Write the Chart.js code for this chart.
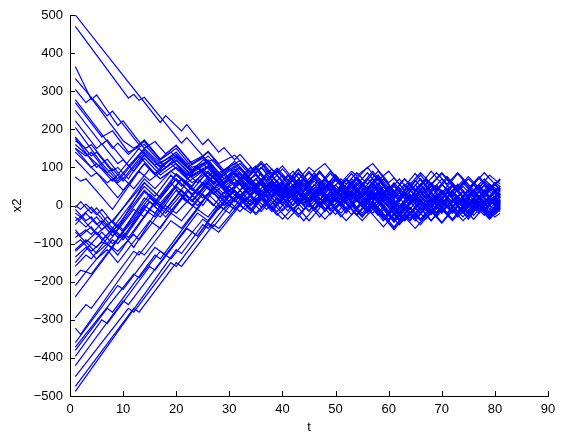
<!DOCTYPE html>
<html>
<head>
<meta charset="utf-8">
<script src="https://cdn.jsdelivr.net/npm/chart.js@4.4.1/dist/chart.umd.min.js"></script>
<style>
  html, body { margin: 0; padding: 0; background: #fff; }
</style>
</head>
<body>
<canvas id="chart" width="563" height="437"></canvas>
<script>
// axis ranges
const tRange = [0, 90];
const x2Range = [-500, 500];

// each path is a flat list of turning points: t, x2, t, x2, ...
const upperPaths = [
  [1,500, 17,218, 18,236, 21,196, 22,212, 25,160, 26,174, 28,140, 29,152, 31,120, 32,134, 35,86, 37,110, 39,80, 40,96, 43,50, 44,66, 46,36, 49,84, 51,56, 52,70, 55,24, 57,56, 58,44, 61,0, 63,30, 64,18, 67,66, 68,54, 70,84, 73,36, 74,50, 76,20, 78,52, 79,40, 81,70],
  [1,470, 11,282, 12,292, 13,276, 14,284, 21,164, 22,178, 25,130, 26,142, 28,110, 31,132, 34,86, 36,116, 38,84, 39,98, 42,52, 45,100, 46,88, 48,110, 51,60, 53,90, 54,78, 57,110, 60,60, 61,72, 63,40, 66,86, 67,72, 68,90, 71,40, 72,56, 74,24, 77,72, 79,40, 80,54, 81,40],
  [1,365, 4,278, 5,290, 9,210, 10,222, 14,150, 16,168, 18,136, 20,158, 23,110, 25,128, 28,80, 31,116, 33,86, 34,100, 37,50, 38,66, 40,36, 42,70, 43,56, 45,86, 48,40, 49,56, 51,22, 53,54, 55,24, 57,56, 59,20, 60,34, 62,-2, 64,30, 65,16, 67,50, 69,16, 70,32, 73,-16, 75,18, 76,4, 78,40, 80,8, 81,24],
  [1,333, 7,235, 8,248, 13,160, 14,172, 17,122, 20,158, 23,108, 26,140, 29,92, 32,118, 34,86, 36,110, 38,80, 39,92, 42,40, 44,70, 45,56, 47,86, 50,36, 51,50, 53,20, 56,70, 57,56, 58,70, 61,20, 62,34, 64,2, 66,36, 68,4, 70,36, 71,22, 73,56, 75,24, 76,40, 78,8, 80,40, 81,28],
  [1,305, 3,270, 4,282, 10,170, 12,150, 14,168, 17,120, 20,150, 23,100, 27,120, 30,70, 32,86, 34,56, 35,70, 37,36, 39,66, 41,30, 42,44, 44,14, 46,46, 47,30, 49,62, 51,30, 52,46, 55,-4, 57,30, 58,16, 60,46, 62,14, 63,30, 65,-6, 67,26, 68,10, 70,40, 72,8, 74,40, 75,26, 77,54, 79,20, 81,50],
  [1,278, 8,150, 9,164, 11,134, 14,170, 17,120, 19,140, 22,100, 25,124, 28,76, 30,96, 32,66, 33,80, 36,30, 38,62, 39,50, 41,80, 43,46, 44,60, 46,28, 48,60, 50,24, 51,40, 53,8, 55,40, 56,24, 58,56, 60,22, 62,-12, 64,20, 65,4, 67,36, 69,2, 70,18, 72,-16, 74,20, 76,-10, 78,22, 79,8, 81,40],
  [1,270, 6,180, 8,196, 11,140, 14,160, 18,100, 20,126, 23,86, 26,112, 29,60, 31,86, 33,54, 34,68, 36,36, 38,66, 40,30, 41,46, 43,10, 45,44, 47,14, 48,30, 50,-4, 52,26, 54,-4, 55,10, 57,-20, 59,14, 60,0, 62,-36, 64,-4, 65,-20, 67,14, 69,-18, 71,16, 72,0, 74,-30, 76,4, 78,-26, 80,6, 81,-8],
  [1,250, 6,160, 7,172, 11,104, 13,130, 16,84, 19,124, 22,80, 24,104, 27,60, 30,100, 32,70, 34,100, 36,66, 38,96, 40,60, 42,90, 44,54, 46,86, 48,50, 50,80, 52,46, 54,14, 56,46, 58,80, 60,46, 62,14, 64,46, 66,80, 68,46, 70,14, 72,50, 74,20, 76,54, 78,20, 80,56, 81,44],
  [1,222, 5,150, 6,162, 9,110, 10,120, 12,90, 14,124, 17,80, 20,110, 24,60, 26,88, 29,40, 31,70, 33,40, 34,56, 37,10, 39,44, 41,16, 42,30, 44,0, 46,34, 48,6, 50,40, 51,28, 53,60, 55,26, 57,60, 59,30, 60,46, 62,10, 64,44, 66,14, 67,30, 69,0, 71,36, 73,4, 75,40, 77,10, 79,44, 81,16],
  [1,205, 6,110, 7,122, 10,70, 14,140, 17,100, 20,130, 23,90, 26,120, 29,70, 31,96, 33,66, 35,96, 37,60, 38,76, 40,44, 42,76, 44,40, 45,56, 47,26, 49,60, 51,30, 53,64, 55,32, 56,46, 58,14, 60,50, 61,36, 63,70, 65,40, 67,72, 69,40, 70,56, 72,24, 74,60, 76,30, 78,64, 80,36, 81,46],
  [1,180, 4,130, 5,140, 9,70, 14,150, 17,110, 20,140, 23,94, 26,130, 29,84, 31,104, 33,70, 35,100, 37,66, 38,80, 41,30, 43,60, 44,46, 46,80, 48,46, 49,60, 52,10, 54,44, 56,10, 57,26, 59,-6, 61,-40, 63,-6, 64,-22, 66,14, 68,-16, 70,20, 72,-14, 73,0, 75,-30, 77,4, 79,-24, 81,8],
  [1,176, 5,100, 6,110, 9,64, 14,146, 17,104, 20,130, 23,90, 25,110, 28,70, 32,110, 34,80, 36,110, 38,76, 40,104, 42,70, 43,86, 45,56, 47,90, 49,56, 50,70, 52,36, 54,70, 56,40, 58,76, 60,40, 61,56, 63,20, 65,54, 67,20, 68,36, 70,4, 72,40, 74,6, 76,40, 78,70, 80,40, 81,50],
  [1,170, 3,150, 4,160, 8,92, 9,100, 11,70, 14,132, 17,90, 20,118, 23,80, 26,104, 29,60, 31,86, 33,50, 34,64, 36,30, 38,60, 40,26, 41,40, 43,6, 45,40, 47,6, 48,22, 50,-10, 52,24, 54,-8, 55,6, 57,-24, 59,-56, 61,-24, 62,-40, 64,-8, 66,-40, 68,-10, 69,-26, 71,10, 73,-22, 75,10, 77,-20, 79,14, 81,-16],
  [1,160, 9,60, 10,72, 12,44, 15,96, 17,70, 20,100, 22,80, 26,116, 29,70, 32,100, 34,70, 36,100, 38,76, 39,90, 41,60, 43,94, 45,60, 46,74, 48,40, 50,74, 52,44, 54,76, 56,44, 57,60, 59,26, 61,60, 63,30, 65,66, 67,36, 68,52, 70,20, 72,54, 74,24, 76,60, 78,30, 80,60, 81,50],
  [1,150, 4,100, 5,110, 8,64, 13,150, 16,106, 20,134, 22,108, 25,130, 28,86, 31,110, 33,80, 35,104, 37,66, 39,94, 41,56, 42,70, 44,36, 46,70, 48,40, 49,54, 51,20, 53,54, 55,20, 57,50, 59,16, 60,30, 62,-4, 64,30, 66,-4, 67,12, 69,-20, 71,16, 73,-16, 75,20, 77,-14, 79,20, 81,-6],
  [1,150, 3,130, 4,140, 7,86, 8,96, 10,64, 14,134, 17,90, 19,110, 22,70, 25,96, 28,60, 31,90, 33,60, 35,80, 37,46, 38,60, 40,24, 42,56, 44,20, 45,36, 47,0, 49,36, 51,4, 53,34, 55,0, 56,14, 58,-20, 60,14, 62,-20, 63,-6, 65,30, 67,-4, 69,30, 71,0, 72,14, 74,-20, 76,16, 78,-16, 80,20, 81,8],
  [1,140, 7,60, 8,70, 10,40, 14,110, 17,70, 20,100, 23,60, 26,90, 29,50, 31,70, 33,40, 35,10, 37,40, 38,26, 40,60, 42,26, 43,40, 45,6, 47,40, 49,6, 50,20, 52,-14, 54,20, 56,-14, 57,2, 59,-34, 61,0, 63,-36, 64,-20, 66,16, 68,-18, 70,16, 72,-16, 73,0, 75,-36, 77,0, 79,-34, 81,0],
  [1,120, 4,76, 5,86, 9,20, 14,110, 16,80, 19,124, 22,76, 24,100, 27,56, 29,80, 31,50, 33,84, 35,50, 37,84, 39,50, 41,20, 43,50, 45,16, 47,50, 49,16, 51,50, 53,84, 55,50, 57,84, 59,50, 61,16, 63,50, 65,84, 67,50, 69,16, 71,50, 73,84, 75,50, 77,16, 79,50, 81,30],
  [1,75, 2,64, 3,70, 8,-10, 13,90, 15,66, 20,120, 23,76, 26,100, 30,40, 32,56, 34,26, 36,56, 38,20, 40,50, 41,36, 43,66, 45,30, 47,60, 48,46, 50,80, 52,46, 54,14, 56,50, 58,16, 59,30, 61,-6, 63,30, 65,-4, 66,10, 68,-24, 70,12, 72,-20, 74,16, 75,0, 77,36, 79,4, 81,34]
];

const middlePaths = [
  [1,0, 2,-10, 3,4, 5,-24, 6,-10, 8,-44, 14,70, 16,44, 19,90, 22,60, 25,90, 28,50, 30,76, 32,100, 34,70, 36,100, 38,66, 39,80, 41,50, 43,84, 45,50, 46,64, 48,34, 50,66, 52,36, 54,70, 56,100, 58,66, 60,90, 62,56, 63,70, 65,36, 67,70, 69,40, 71,76, 73,44, 75,76, 77,46, 79,80, 81,56],
  [1,-6, 2,10, 4,-20, 5,-6, 8,-60, 14,50, 16,24, 19,80, 21,50, 24,100, 27,56, 29,86, 31,56, 33,86, 35,56, 37,24, 39,56, 41,24, 43,56, 45,90, 47,56, 49,90, 51,56, 53,24, 55,56, 57,90, 59,56, 61,24, 63,56, 65,24, 67,56, 69,86, 71,56, 73,86, 75,56, 77,24, 79,56, 81,36],
  [1,-10, 3,-40, 4,-30, 6,-64, 8,-40, 10,-70, 15,10, 17,-16, 20,40, 22,10, 26,70, 29,30, 32,60, 34,30, 36,60, 38,24, 39,40, 41,6, 43,40, 45,4, 46,20, 48,-16, 50,20, 52,-14, 54,20, 55,4, 57,36, 59,0, 61,-36, 63,0, 65,-34, 66,-20, 68,16, 70,-18, 72,16, 74,-16, 76,20, 78,-10, 80,24, 81,10],
  [1,-20, 2,-30, 4,-4, 7,-50, 8,-40, 14,60, 17,20, 20,70, 23,30, 26,64, 29,20, 31,40, 33,10, 35,40, 37,4, 39,36, 40,22, 42,54, 44,20, 46,56, 48,20, 49,36, 51,4, 53,36, 55,0, 57,34, 58,20, 60,-14, 62,20, 64,-10, 66,26, 68,-6, 69,10, 71,-24, 73,10, 75,-24, 77,10, 79,-20, 81,10],
  [1,-30, 3,-56, 5,-30, 8,-80, 14,36, 16,10, 20,84, 23,50, 26,104, 29,56, 32,84, 34,54, 36,84, 38,50, 40,80, 41,66, 43,96, 45,60, 47,90, 49,56, 50,70, 52,40, 54,74, 56,40, 58,70, 60,36, 61,50, 63,20, 65,54, 67,20, 69,50, 71,20, 72,34, 74,0, 76,34, 78,4, 80,36, 81,26],
  [1,-40, 2,-30, 5,-76, 7,-50, 9,-84, 15,20, 18,-20, 21,30, 23,0, 26,50, 29,0, 32,40, 34,10, 36,40, 38,4, 39,20, 41,-14, 43,20, 45,-14, 47,20, 48,6, 50,40, 52,6, 54,-26, 56,6, 58,-26, 59,-10, 61,-44, 63,-10, 65,-40, 67,-6, 68,-20, 70,14, 72,-20, 74,14, 76,-16, 78,16, 80,-14, 81,0],
  [1,-50, 3,-20, 5,-50, 6,-40, 8,-70, 14,40, 17,0, 20,50, 23,14, 26,60, 29,20, 31,36, 33,6, 35,-20, 37,10, 39,-16, 40,0, 42,30, 44,0, 46,30, 47,14, 49,46, 51,14, 53,46, 55,14, 56,30, 58,-4, 60,-36, 62,-4, 64,-34, 65,-20, 67,14, 69,-20, 71,14, 73,-16, 74,0, 76,36, 78,4, 80,36, 81,24],
  [1,-64, 2,-80, 4,-56, 6,-90, 8,-64, 10,-90, 15,10, 18,-30, 21,20, 24,-10, 27,50, 30,10, 32,30, 34,0, 36,30, 38,-4, 40,30, 42,0, 43,16, 45,-16, 47,20, 49,-14, 51,20, 52,6, 54,-26, 56,6, 58,40, 60,6, 62,-30, 63,-14, 65,20, 67,-14, 69,20, 70,4, 72,36, 74,6, 76,-26, 78,6, 80,-24, 81,-10],
  [1,-70, 3,-96, 5,-70, 7,-100, 12,-10, 14,-30, 19,60, 22,10, 25,60, 28,20, 30,50, 32,20, 34,-10, 36,20, 38,-10, 40,20, 42,50, 44,20, 46,-10, 48,20, 50,-10, 52,-40, 54,-10, 56,20, 58,-10, 60,-40, 62,-10, 64,20, 66,-10, 68,20, 70,-10, 72,-40, 74,-10, 76,20, 78,-10, 80,20, 81,10],
  [1,-84, 3,-64, 4,-76, 7,-30, 9,-60, 14,60, 17,20, 20,80, 23,40, 26,90, 29,40, 32,70, 34,40, 36,70, 38,36, 40,60, 42,26, 43,40, 45,10, 47,46, 49,14, 51,46, 53,14, 54,30, 56,-4, 58,30, 60,-4, 62,-40, 64,-6, 66,-36, 67,-20, 69,14, 71,-20, 73,14, 75,-16, 76,0, 78,34, 80,0, 81,14],
  [1,-100, 2,-90, 4,-120, 6,-96, 8,-110, 14,20, 16,0, 20,70, 23,30, 27,90, 30,40, 32,60, 34,30, 36,60, 38,26, 39,40, 41,6, 43,40, 45,6, 47,36, 48,20, 50,54, 52,20, 54,54, 56,86, 58,54, 59,70, 61,36, 63,70, 65,36, 67,70, 68,56, 70,86, 72,56, 74,24, 76,56, 78,24, 80,56, 81,40],
  [1,-116, 3,-90, 4,-100, 6,-70, 8,-100, 10,-76, 12,-110, 17,0, 19,-20, 24,70, 27,30, 30,70, 32,40, 35,70, 37,40, 38,54, 40,20, 42,54, 44,20, 46,-10, 48,20, 50,-6, 51,10, 53,40, 55,10, 57,40, 59,8, 61,40, 62,24, 64,60, 66,26, 68,60, 70,30, 71,44, 73,10, 75,-20, 77,10, 79,-16, 81,14],
  [1,-120, 3,-96, 5,-126, 7,-100, 9,-130, 15,-10, 17,-30, 21,40, 24,0, 27,40, 30,0, 33,60, 35,30, 37,60, 39,26, 41,56, 42,40, 44,70, 46,36, 48,70, 50,36, 51,50, 53,16, 55,50, 57,16, 59,50, 60,36, 62,70, 64,36, 66,70, 68,40, 69,54, 71,20, 73,54, 75,20, 77,50, 79,16, 81,30],
  [1,-135, 3,-110, 5,-140, 7,-116, 9,-150, 15,-40, 17,-60, 22,40, 25,0, 28,60, 31,10, 33,40, 35,10, 37,40, 38,26, 40,56, 42,20, 44,-10, 46,20, 48,-14, 49,0, 51,30, 53,0, 55,-30, 57,0, 59,-34, 60,-20, 62,-50, 64,-20, 66,-50, 68,-16, 70,-46, 71,-30, 73,0, 75,-30, 77,4, 79,-30, 81,0],
  [1,-150, 4,-100, 5,-110, 8,-60, 10,-84, 14,0, 16,-20, 21,70, 24,30, 27,80, 30,30, 33,76, 35,44, 37,76, 39,40, 40,56, 42,20, 44,54, 46,20, 48,54, 50,24, 51,40, 53,70, 55,40, 57,70, 59,36, 61,4, 63,36, 64,20, 66,56, 68,20, 70,56, 72,26, 74,60, 75,44, 77,76, 79,44, 81,70],
  [1,-160, 3,-130, 4,-140, 9,-50, 10,-64, 15,30, 17,6, 21,70, 24,30, 27,76, 30,36, 32,66, 34,36, 36,66, 38,36, 40,6, 42,36, 44,6, 46,36, 48,66, 50,36, 52,66, 54,36, 56,6, 58,36, 60,6, 62,-24, 64,6, 66,36, 68,6, 70,36, 72,6, 74,36, 76,6, 78,36, 80,6, 81,16],
  [1,-185, 2,-170, 3,-174, 8,-90, 9,-100, 14,-10, 16,-30, 20,50, 23,10, 26,56, 29,10, 31,40, 33,6, 35,-24, 37,6, 38,-10, 40,24, 42,-10, 44,24, 46,-6, 48,-36, 50,-6, 51,-20, 53,10, 55,-20, 57,10, 59,-24, 61,-56, 63,-24, 64,-40, 66,-6, 68,-40, 70,-6, 72,-36, 74,-4, 76,-36, 78,-4, 80,-30, 81,-20]
];

const lowerPaths = [
  [1,-210, 3,-174, 4,-180, 10,-70, 11,-84, 16,10, 18,-10, 22,60, 25,20, 28,56, 31,10, 33,40, 35,6, 37,40, 39,4, 40,20, 42,-14, 44,20, 46,-14, 48,20, 49,6, 51,40, 53,6, 55,-26, 57,6, 59,-30, 61,-60, 63,-26, 64,-40, 66,-6, 68,-40, 70,-6, 72,-36, 73,-20, 75,14, 77,-20, 79,14, 81,-10],
  [1,-240, 8,-110, 9,-120, 12,-76, 13,-90, 18,0, 20,-20, 24,40, 27,0, 30,50, 32,20, 34,50, 36,16, 38,46, 39,30, 41,-4, 43,30, 45,-4, 47,30, 49,0, 50,14, 52,-20, 54,14, 56,-20, 58,14, 60,-20, 61,-6, 63,-40, 65,-6, 67,-36, 69,-4, 70,-20, 72,14, 74,-20, 76,16, 78,-16, 80,16, 81,4],
  [1,-295, 3,-260, 4,-270, 12,-120, 13,-130, 19,-20, 21,-40, 25,30, 28,-10, 31,40, 33,10, 35,40, 37,6, 39,-26, 41,6, 43,-24, 44,-10, 46,24, 48,-10, 50,24, 52,-10, 53,4, 55,-30, 57,4, 59,-30, 61,-64, 63,-30, 65,-60, 66,-44, 68,-10, 70,-44, 72,-10, 74,-40, 75,-26, 77,6, 79,-26, 81,4],
  [1,-322, 2,-338, 13,-120, 14,-130, 19,-40, 21,-60, 26,30, 29,-10, 32,30, 34,0, 36,30, 38,-6, 40,-36, 42,-6, 44,-40, 45,-24, 47,10, 49,-24, 51,10, 53,-24, 55,10, 56,-6, 58,26, 60,-6, 62,-40, 64,-6, 66,-36, 67,-20, 69,14, 71,-20, 73,14, 75,-20, 77,10, 79,-20, 81,6],
  [1,-360, 9,-210, 10,-220, 16,-110, 18,-130, 22,-60, 24,-80, 28,0, 30,-20, 32,16, 34,-14, 36,16, 38,-16, 39,0, 41,30, 43,0, 45,30, 47,-4, 49,26, 50,10, 52,44, 54,10, 56,40, 58,6, 60,-26, 62,6, 63,-10, 65,24, 67,-10, 69,24, 71,-6, 73,26, 74,10, 76,40, 78,6, 80,36, 81,20],
  [1,-372, 12,-180, 13,-190, 17,-120, 18,-130, 24,-20, 26,-40, 30,30, 32,0, 34,30, 36,-4, 38,30, 40,0, 41,14, 43,46, 45,14, 47,46, 49,10, 51,44, 52,30, 54,60, 56,30, 58,60, 60,24, 62,-6, 64,24, 65,10, 67,44, 69,10, 71,44, 73,10, 75,40, 76,24, 78,54, 80,20, 81,30],
  [1,-380, 7,-270, 8,-280, 16,-130, 17,-140, 24,-10, 26,-30, 30,40, 32,16, 34,50, 36,20, 38,56, 40,20, 41,36, 43,70, 45,36, 47,70, 49,36, 51,70, 52,56, 54,86, 56,56, 58,90, 60,56, 62,20, 64,54, 65,40, 67,70, 69,36, 71,70, 73,40, 75,70, 76,56, 78,86, 80,56, 81,66],
  [1,-396, 6,-300, 7,-310, 15,-160, 16,-170, 22,-60, 24,-80, 29,10, 31,-10, 33,26, 35,56, 37,20, 39,56, 41,20, 42,36, 44,70, 46,36, 48,70, 50,36, 52,70, 53,56, 55,20, 57,56, 59,20, 61,54, 63,20, 64,36, 66,70, 68,36, 70,70, 72,36, 74,66, 75,50, 77,16, 79,50, 81,20],
  [1,-420, 10,-250, 11,-260, 18,-130, 19,-140, 25,-36, 27,-56, 31,16, 33,-10, 35,20, 37,-10, 39,20, 41,50, 43,20, 45,50, 47,20, 49,-10, 51,20, 53,-10, 55,-40, 57,-10, 59,20, 61,-10, 63,-40, 65,-10, 67,20, 69,-10, 71,20, 73,50, 75,20, 77,-10, 79,20, 81,0],
  [1,-449, 11,-270, 12,-280, 19,-150, 20,-160, 26,-50, 28,-70, 32,0, 34,-20, 36,16, 38,50, 40,16, 42,50, 44,16, 45,30, 47,0, 49,30, 51,0, 53,34, 55,0, 56,16, 58,50, 60,16, 62,46, 64,10, 66,44, 67,30, 69,0, 71,34, 73,0, 75,30, 77,-4, 78,10, 80,40, 81,26],
  [1,-475, 12,-270, 13,-280, 20,-150, 21,-160, 27,-50, 28,-60, 33,20, 35,0, 37,30, 39,-6, 41,-36, 43,-6, 45,-40, 46,-24, 48,10, 50,-24, 52,10, 54,-24, 56,10, 57,-6, 59,-40, 61,-6, 63,-36, 65,-4, 66,-20, 68,14, 70,-20, 72,14, 74,-20, 76,10, 77,-6, 79,-36, 81,-6],
  [1,-488, 20,-116, 21,-126, 25,-50, 26,-60, 30,10, 32,-16, 34,16, 36,-16, 38,20, 40,-14, 41,0, 43,-30, 45,4, 47,-30, 49,4, 51,-30, 52,-14, 54,16, 56,-16, 58,16, 60,-20, 62,-50, 64,-16, 65,-30, 67,4, 69,-30, 71,4, 73,-30, 74,-16, 76,16, 78,-16, 80,14, 81,4]
];

const allPaths = upperPaths.concat(middlePaths, lowerPaths);

const datasets = allPaths.map(path => {
  const pts = [];
  for (let i = 0; i < path.length; i += 2) {
    pts.push({ x: path[i], y: path[i + 1] });
  }
  return {
    data: pts,
    borderColor: "#0000ff",
    borderWidth: 1.2,
    pointRadius: 0,
    tension: 0,
    fill: false
  };
});

const tickFont = { family: "'Liberation Sans', Arial, sans-serif", size: 13 };

// matlab style ticks pointing into the plot
const inwardTicks = {
  id: "inwardTicks",
  afterDraw(chart) {
    const { ctx, chartArea, scales } = chart;
    ctx.save();
    ctx.strokeStyle = "#000";
    ctx.lineWidth = 1;
    ctx.beginPath();
    scales.x.ticks.forEach(t => {
      const px = Math.round(scales.x.getPixelForValue(t.value)) + 0.5;
      ctx.moveTo(px, chartArea.bottom);
      ctx.lineTo(px, chartArea.bottom - 5);
    });
    scales.y.ticks.forEach(t => {
      const py = Math.round(scales.y.getPixelForValue(t.value)) + 0.5;
      ctx.moveTo(chartArea.left, py);
      ctx.lineTo(chartArea.left + 5, py);
    });
    ctx.stroke();
    ctx.restore();
  }
};

new Chart(document.getElementById("chart"), {
  type: "line",
  data: { datasets: datasets },
  plugins: [inwardTicks],
  options: {
    responsive: false,
    animation: false,
    layout: { padding: { top: 15, right: 15, bottom: 0, left: 0 } },
    plugins: {
      legend: { display: false },
      tooltip: { enabled: false }
    },
    scales: {
      x: {
        type: "linear",
        min: tRange[0],
        max: tRange[1],
        ticks: { stepSize: 10, padding: 6, color: "#000", font: tickFont, maxRotation: 0 },
        grid: { drawOnChartArea: false, drawTicks: false },
        border: { color: "#000", width: 1 },
        title: { display: true, text: "t", color: "#000", font: tickFont, padding: { top: 0, bottom: 2 } },
        afterFit: s => { s.height = 41; }
      },
      y: {
        type: "linear",
        min: x2Range[0],
        max: x2Range[1],
        ticks: {
          stepSize: 100,
          padding: 7,
          color: "#000",
          font: tickFont,
          callback: v => String(v).replace("-", "\u2212")
        },
        grid: { drawOnChartArea: false, drawTicks: false },
        border: { color: "#000", width: 1 },
        title: { display: true, text: "x2", color: "#000", font: tickFont, padding: { top: 10, bottom: 0 } },
        afterFit: s => { s.width = 70; }
      }
    }
  }
});
</script>
</body>
</html>
